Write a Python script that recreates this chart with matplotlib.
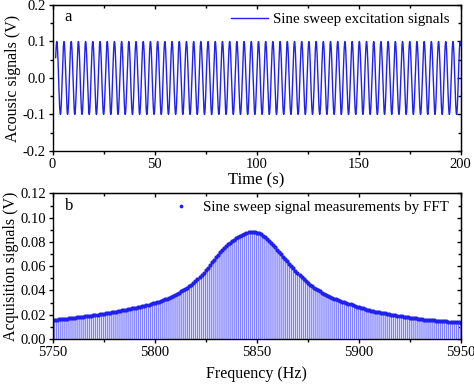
import numpy as np
import matplotlib
matplotlib.use("Agg")
import matplotlib.pyplot as plt
from matplotlib.ticker import MultipleLocator

plt.rcParams['font.family'] = ['Liberation Serif', 'DejaVu Serif']
plt.rcParams['axes.unicode_minus'] = False

# top panel: excitation sine (amplitude / period)
amplitude = 0.1
period = 3.53        # s
first_peak = 2.05    # s
t_start, t_end = 1.5, 200.0

# bottom panel: FFT measurements, 1 Hz steps from 5750 to 5950 Hz
freq_start = 5750
fft_vals = [
    .0157, .0158, .0160, .0161, .0163, .0164, .0166, .0167, .0169, .0170,  # 5750
    .0172, .0174, .0177, .0179, .0182, .0184, .0186, .0189, .0191, .0193,  # 5760
    .0196, .0198, .0201, .0203, .0206, .0208, .0211, .0214, .0217, .0219,  # 5770
    .0222, .0225, .0228, .0231, .0235, .0238, .0241, .0244, .0247, .0251,  # 5780
    .0254, .0258, .0262, .0266, .0270, .0274, .0278, .0282, .0287, .0292,  # 5790
    .0297, .0302, .0308, .0314, .0320, .0326, .0333, .0340, .0348, .0356,  # 5800
    .0364, .0373, .0382, .0391, .0400, .0411, .0423, .0435, .0448, .0462,  # 5810
    .0476, .0491, .0507, .0526, .0546, .0567, .0588, .0610, .0632, .0654,  # 5820
    .0675, .0695, .0714, .0732, .0749, .0765, .0780, .0794, .0807, .0819,  # 5830
    .0830, .0840, .0850, .0859, .0867, .0874, .0880, .0884, .0885, .0882,  # 5840
    .0877, .0870, .0861, .0851, .0838, .0824, .0808, .0791, .0773, .0754,  # 5850
    .0735, .0716, .0697, .0678, .0659, .0640, .0621, .0602, .0583, .0564,  # 5860
    .0546, .0528, .0510, .0493, .0477, .0462, .0448, .0435, .0423, .0412,  # 5870
    .0401, .0391, .0381, .0371, .0362, .0354, .0346, .0339, .0332, .0325,  # 5880
    .0319, .0313, .0307, .0301, .0295, .0290, .0284, .0278, .0273, .0267,  # 5890
    .0262, .0257, .0252, .0247, .0242, .0238, .0234, .0229, .0225, .0222,  # 5900
    .0219, .0216, .0213, .0210, .0207, .0204, .0201, .0198, .0195, .0192,  # 5910
    .0189, .0187, .0184, .0181, .0179, .0176, .0174, .0172, .0169, .0167,  # 5920
    .0165, .0162, .0160, .0158, .0157, .0155, .0154, .0152, .0151, .0149,  # 5930
    .0148, .0146, .0145, .0144, .0142, .0141, .0140, .0138, .0137, .0136,  # 5940
    .0134,                                                                  # 5950
]

line_blue = '#2020f0'
stem_blue = '#7f7fff'

t = np.linspace(t_start, t_end, 6000)
sig = amplitude * np.cos(2 * np.pi * (t - first_peak) / period)
freqs = freq_start + np.arange(len(fft_vals))

fig = plt.figure(figsize=(4.74, 3.86), dpi=100)
ax1 = fig.add_axes([0.111, 0.609, 0.861, 0.378])
ax2 = fig.add_axes([0.111, 0.122, 0.861, 0.377])


def style(ax, xmaj, ymaj, xlim, ylim, yfmt):
    ax.set_xlim(*xlim)
    ax.set_ylim(*ylim)
    ax.xaxis.set_major_locator(MultipleLocator(xmaj))
    ax.xaxis.set_minor_locator(MultipleLocator(xmaj / 2))
    ax.yaxis.set_major_locator(MultipleLocator(ymaj))
    ax.yaxis.set_minor_locator(MultipleLocator(ymaj / 2))
    ax.yaxis.set_major_formatter(yfmt)
    ax.tick_params(which='major', direction='out', length=3, width=1, pad=2,
                   labelsize=10.5)
    ax.tick_params(which='minor', direction='out', length=2, width=1)
    for s in ax.spines.values():
        s.set_linewidth(1)
    top = ax.secondary_xaxis('top')
    top.xaxis.set_major_locator(MultipleLocator(xmaj))
    top.xaxis.set_minor_locator(MultipleLocator(xmaj / 2))
    top.tick_params(which='both', direction='in', labeltop=False, width=1)
    top.tick_params(which='major', length=3)
    top.tick_params(which='minor', length=2)
    right = ax.secondary_yaxis('right')
    right.yaxis.set_major_locator(MultipleLocator(ymaj))
    right.yaxis.set_minor_locator(MultipleLocator(ymaj / 2))
    right.tick_params(which='both', direction='in', labelright=False, width=1)
    right.tick_params(which='major', length=3)
    right.tick_params(which='minor', length=2)


ax1.plot(t, sig, color=line_blue, lw=1.0, label='Sine sweep excitation signals')
style(ax1, 50, 0.1, (0, 200), (-0.2, 0.2), '{x:.1f}')
ax1.set_xlabel('Time (s)', fontsize=12, labelpad=1)
ax1.set_ylabel('Acousic signals (V)', fontsize=11.5, labelpad=1)
ax1.text(0.03, 0.915, 'a', transform=ax1.transAxes, fontsize=12, va='center')
ax1.legend(loc='upper right', frameon=False, fontsize=10.8, handlelength=2.5,
           handletextpad=0.3, borderaxespad=0.1, bbox_to_anchor=(0.99, 1.0))

ax2.vlines(freqs, 0, fft_vals, color=stem_blue, lw=0.95, snap=False)
ax2.plot(freqs, fft_vals, 'o', color=line_blue, ms=3, mec='none',
         label='Sine sweep signal measurements by FFT')
style(ax2, 50, 0.02, (5750, 5950), (0, 0.12), '{x:.2f}')
ax2.set_xlabel('Frequency (Hz)', fontsize=11.5, labelpad=5)
ax2.set_ylabel('Acquisition signals (V)', fontsize=11.5, labelpad=1)
ax2.text(0.03, 0.915, 'b', transform=ax2.transAxes, fontsize=12, va='center')
ax2.legend(loc='upper right', frameon=False, fontsize=10.8, handlelength=1.2,
           handletextpad=0.9, borderaxespad=0.1, markerscale=0.9,
           bbox_to_anchor=(0.99, 1.0))

fig.savefig('out.png', dpi=100)
